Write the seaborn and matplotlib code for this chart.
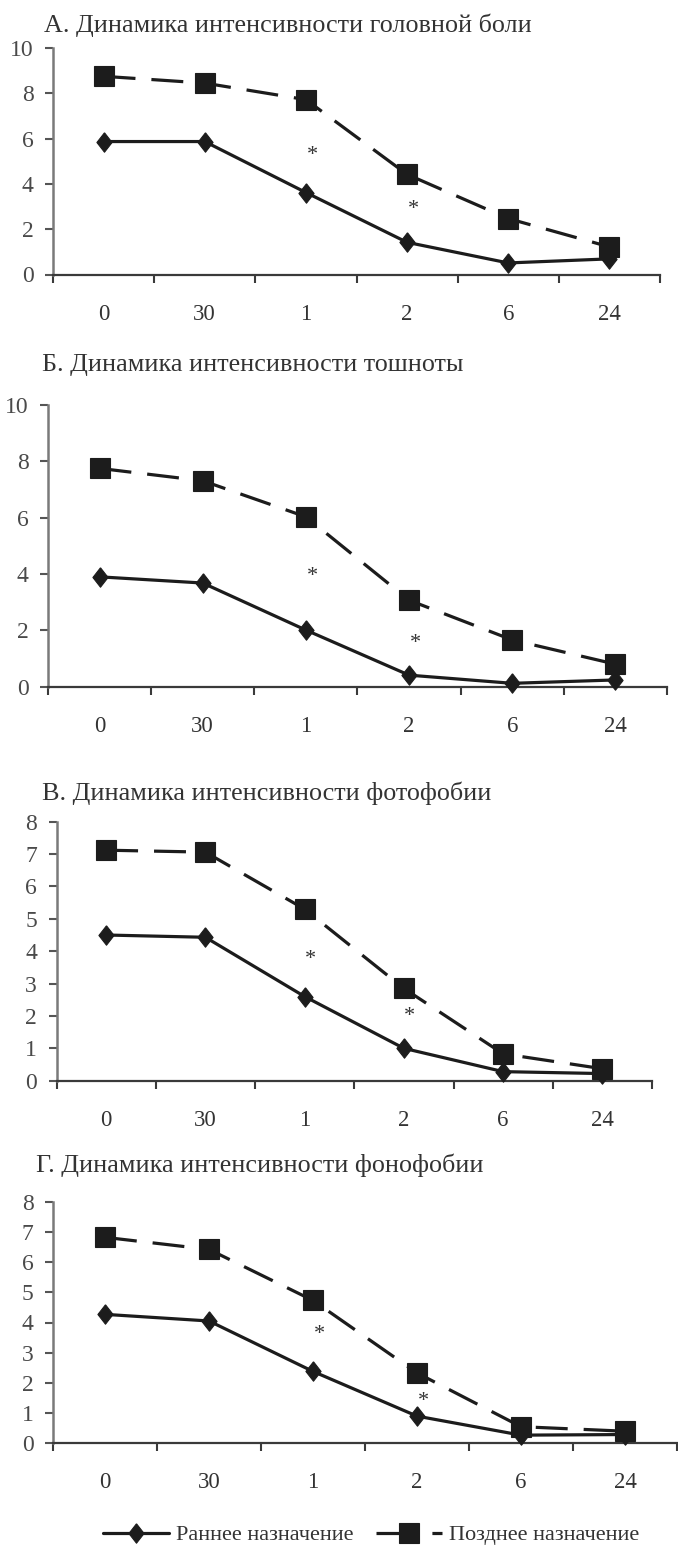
import numpy as np
import pandas as pd
import matplotlib
matplotlib.use("Agg")
import matplotlib.pyplot as plt
import seaborn as sns

# ---------------- data ----------------
time_labels = ["0", "30", "1", "2", "6", "24"]
series_names = ["Раннее назначение", "Позднее назначение"]

title_A = "А. Динамика интенсивности головной боли"
early_A = [5.87, 5.87, 3.62, 1.42, 0.51, 0.69]
late_A = [8.75, 8.45, 7.72, 4.42, 2.47, 1.22]
stars_A = [(2, 5.26), (3, 2.86)]

title_B = "Б. Динамика интенсивности тошноты"
early_B = [3.90, 3.68, 2.01, 0.41, 0.12, 0.24]
late_B = [7.75, 7.31, 6.03, 3.07, 1.66, 0.80]
stars_B = [(2, 3.90), (3, 1.54)]

title_C = "В. Динамика интенсивности фотофобии"
early_C = [4.50, 4.43, 2.60, 1.00, 0.28, 0.22]
late_C = [7.12, 7.06, 5.30, 2.85, 0.83, 0.37]
stars_C = [(2, 3.75), (3, 1.98)]

title_D = "Г. Динамика интенсивности фонофобии"
early_D = [4.27, 4.05, 2.38, 0.90, 0.27, 0.29]
late_D = [6.82, 6.42, 4.73, 2.33, 0.55, 0.40]
stars_D = [(2, 3.59), (3, 1.38)]

# ---------------- style ----------------
sns.set_theme(style="ticks")
plt.rcParams["font.family"] = ["Liberation Serif", "DejaVu Serif"]

W, H = 678, 1546
fig = plt.figure(figsize=(W / 100, H / 100), dpi=100)

LINE = "#1c1c1c"
TXT = "#333333"
diamond = [(0, 1), (0.78, 0), (0, -1), (-0.78, 0), (0, 1)]
dash = (0, (10, 5))

panels = [
    dict(title=title_A, early=early_A, late=late_A, stars=stars_A, ymax=10, ystep=2,
         box=(53, 660, 48, 274.5), tpos=(44, 25)),
    dict(title=title_B, early=early_B, late=late_B, stars=stars_B, ymax=10, ystep=2,
         box=(48, 667, 405, 686.7), tpos=(42, 365)),
    dict(title=title_C, early=early_C, late=late_C, stars=stars_C, ymax=8, ystep=1,
         box=(56.5, 652, 821.7, 1080.7), tpos=(42, 793)),
    dict(title=title_D, early=early_D, late=late_D, stars=stars_D, ymax=8, ystep=1,
         box=(53, 677, 1201.7, 1443.3), tpos=(36, 1165)),
]

x_pos = np.arange(len(time_labels))
last_ax = None
for p in panels:
    l, r, t, b = p["box"]
    ax = fig.add_axes([l / W, 1 - b / H, (r - l) / W, (b - t) / H])
    df = pd.DataFrame({"x": x_pos, "early": p["early"], "late": p["late"]})
    sns.lineplot(data=df, x="x", y="early", ax=ax, color=LINE, lw=2.3,
                 marker=diamond, markersize=14, markeredgewidth=0.8,
                 markeredgecolor=LINE, clip_on=False, label=series_names[0],
                 legend=False, zorder=3)
    sns.lineplot(data=df, x="x", y="late", ax=ax, color=LINE, lw=2.3,
                 linestyle=dash, marker="s", markersize=14,
                 markeredgewidth=0.8, markeredgecolor=LINE, clip_on=False,
                 label=series_names[1], legend=False, zorder=4)
    for sx, sy in p["stars"]:
        ax.text(sx + 0.06, sy, "*", ha="center", va="center", fontsize=16,
                color=TXT)
    ax.set_xlim(-0.5, len(time_labels) - 0.5)
    ax.set_ylim(0, p["ymax"])
    yt = np.arange(0, p["ymax"] + 0.01, p["ystep"])
    ax.set_yticks(yt)
    ax.set_yticklabels([str(int(v)) for v in yt])
    ax.set_xticks(np.arange(-0.5, len(time_labels), 1))
    ax.set_xticklabels([])
    ax.set_xticks(x_pos, minor=True)
    ax.set_xticklabels(time_labels, minor=True)
    ax.tick_params(axis="x", which="minor", length=0, pad=21, labelsize=16.5,
                   labelcolor=TXT)
    ax.tick_params(axis="x", which="major", length=6, width=1.5,
                   direction="out", color="#3a3a3a")
    ax.tick_params(axis="y", length=6, width=1.5, direction="out",
                   color="#555555", pad=8, labelsize=17, labelcolor="#4a4a4a")
    ax.set_xlabel("")
    ax.set_ylabel("")
    ax.grid(False)
    ax.set_facecolor("none")
    for s in ("top", "right"):
        ax.spines[s].set_visible(False)
    ax.spines["left"].set_color("#7a7a7a")
    ax.spines["left"].set_linewidth(1.8)
    ax.spines["bottom"].set_color("#3a3a3a")
    ax.spines["bottom"].set_linewidth(1.6)
    fig.text(p["tpos"][0] / W, 1 - p["tpos"][1] / H, p["title"], ha="left",
             va="center", fontsize=18.8, color=TXT)
    last_ax = ax

handles, labels = last_ax.get_legend_handles_labels()
leg = fig.legend(handles, labels, loc="center",
                 bbox_to_anchor=(371 / W, 1 - 1535 / H),
                 ncol=2, frameon=False, fontsize=16, handlelength=3.0,
                 columnspacing=1.0, handletextpad=0.3, labelcolor=TXT)
leg_lines = leg.get_lines()
if len(leg_lines) >= 2:
    leg_lines[1].set_linestyle((0, (9.4, 8.1, 3.5, 50)))

fig.savefig("out.png", dpi=100)
